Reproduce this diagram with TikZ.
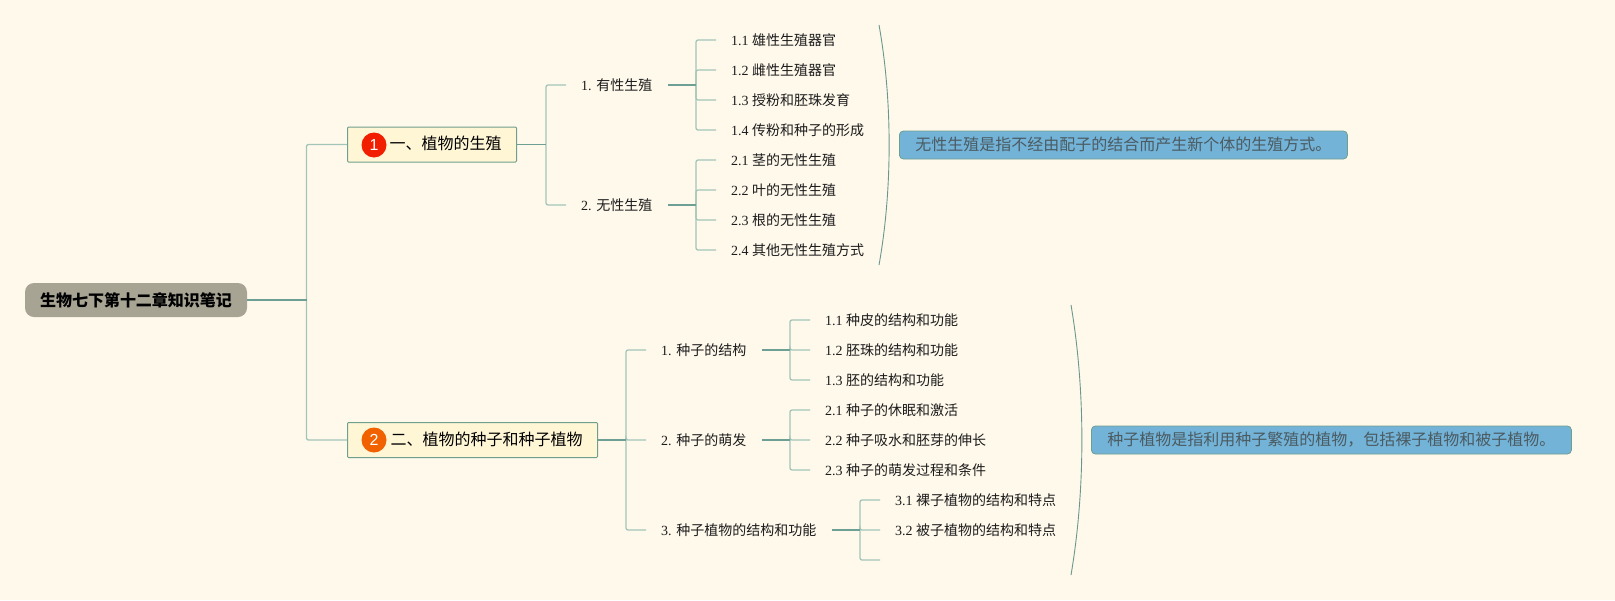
\documentclass[tikz,border=0pt]{standalone}
\usepackage{fontspec}
\setmainfont{Liberation Serif}
\newfontfamily\cjk{Noto Sans CJK SC}
\newfontfamily\iconfont{Liberation Sans}
\definecolor{bgc}{HTML}{FFF9EC}
\definecolor{boxc}{HTML}{FFF6D6}
\definecolor{rootc}{HTML}{A8A493}
\definecolor{notec}{HTML}{73B3D7}
\definecolor{notetxt}{HTML}{4B5B62}
\definecolor{thinc}{HTML}{A3C4B8}
\definecolor{thickc}{HTML}{6E9F94}
\definecolor{edgec}{HTML}{6F9F8E}
\definecolor{bracec}{HTML}{6A978C}
\definecolor{txt}{HTML}{1C1C1C}
\tikzset{
  rootbox/.style={draw=none,fill=rootc,rounded corners=9pt,minimum width=222pt,minimum height=34pt,inner sep=0pt,
    font=\cjk\bfseries\fontsize{16}{18}\selectfont,text=black},
  mainbox/.style={draw=edgec,line width=1pt,fill=boxc,rounded corners=1pt,minimum height=35pt,inner xsep=15pt,inner ysep=0pt,
    font=\fontsize{16}{18}\selectfont\cjk,text=black,anchor=west,text height=11pt,text depth=1pt},
  icon/.style={circle,minimum size=25pt,inner sep=0pt,text=white,font=\iconfont\fontsize{16}{18}\selectfont},
  topic/.style={anchor=west,inner xsep=15pt,inner ysep=2pt,text=txt,font=\fontsize{14}{16}\selectfont,text height=10pt,text depth=0pt},
  notebox/.style={draw=edgec,line width=0.8pt,fill=notec,rounded corners=4pt,anchor=west,minimum height=28pt,inner xsep=16pt,inner ysep=0pt,
    font=\fontsize{16}{18}\selectfont\cjk,text=notetxt,text height=11pt,text depth=1pt},
  thinline/.style={draw=thinc,line width=1.3pt,rounded corners=2pt},
  thickline/.style={draw=thickc,line width=1.6pt},
  braceline/.style={draw=bracec,line width=0.9pt},
}
\begin{document}
\begin{tikzpicture}[x=1pt,y=-1pt]
\useasboundingbox[fill=bgc] (0,0) rectangle (1615,600);
% junctions
\coordinate (j0) at (306.5,300);
\coordinate (j1) at (546,144.5);
\coordinate (j2) at (626,440);
\coordinate (j11) at (696,85);
\coordinate (j12) at (696,205);
\coordinate (j21) at (790,350);
\coordinate (j22) at (790,440);
\coordinate (j23) at (860,530);
\coordinate (empty) at (880,560);
\coordinate (b1a) at (879,25);
\coordinate (b1b) at (879,265);
\coordinate (b2a) at (1071,305);
\coordinate (b2b) at (1071,575);
% nodes
\node[rootbox] (root) at (136,300) {生物七下第十二章知识笔记};
\node[mainbox] (m1) at (347,144.5) {\hspace*{27pt}一、植物的生殖};
\node[mainbox] (m2) at (347,440) {\hspace*{28pt}二、植物的种子和种子植物};
\node[icon,fill=red!75!orange!95!black] (i1) at (374,145) {1};
\node[icon,fill=orange!80!red!95!black] (i2) at (374,440) {2};
\node[topic] (s1) at (566,85) {1. {\cjk 有性生殖}};
\node[topic] (s2) at (566,205) {2. {\cjk 无性生殖}};
\node[topic] (l11) at (716,40) {1.1 {\cjk 雄性生殖器官}};
\node[topic] (l12) at (716,70) {1.2 {\cjk 雌性生殖器官}};
\node[topic] (l13) at (716,100) {1.3 {\cjk 授粉和胚珠发育}};
\node[topic] (l14) at (716,130) {1.4 {\cjk 传粉和种子的形成}};
\node[topic] (l21) at (716,160) {2.1 {\cjk 茎的无性生殖}};
\node[topic] (l22) at (716,190) {2.2 {\cjk 叶的无性生殖}};
\node[topic] (l23) at (716,220) {2.3 {\cjk 根的无性生殖}};
\node[topic] (l24) at (716,250) {2.4 {\cjk 其他无性生殖方式}};
\node[topic] (t1) at (646,350) {1. {\cjk 种子的结构}};
\node[topic] (t2) at (646,440) {2. {\cjk 种子的萌发}};
\node[topic] (t3) at (646,530) {3. {\cjk 种子植物的结构和功能}};
\node[topic] (k11) at (810,320) {1.1 {\cjk 种皮的结构和功能}};
\node[topic] (k12) at (810,350) {1.2 {\cjk 胚珠的结构和功能}};
\node[topic] (k13) at (810,380) {1.3 {\cjk 胚的结构和功能}};
\node[topic] (k21) at (810,410) {2.1 {\cjk 种子的休眠和激活}};
\node[topic] (k22) at (810,440) {2.2 {\cjk 种子吸水和胚芽的伸长}};
\node[topic] (k23) at (810,470) {2.3 {\cjk 种子的萌发过程和条件}};
\node[topic] (k31) at (880,500) {3.1 {\cjk 裸子植物的结构和特点}};
\node[topic] (k32) at (880,530) {3.2 {\cjk 被子植物的结构和特点}};
\node[notebox] (n1) at (899,145) {无性生殖是指不经由配子的结合而产生新个体的生殖方式。};
\node[notebox] (n2) at (1091,440) {种子植物是指利用种子繁殖的植物，包括裸子植物和被子植物。};
% connectors
\draw[thinline] (j0) |- (m1.west);
\draw[thinline] (j0) |- (m2.west);
\draw[thickline] (root.east) -- (j0);
\draw[thinline] (j1) |- (s1.west);
\draw[thinline] (j1) |- (s2.west);
\draw[thickline] (m1.east) -- (j1);
\foreach \n in {l11,l12,l13,l14} \draw[thinline] (j11) |- (\n.west);
\draw[thickline] (s1.east) -- (j11);
\foreach \n in {l21,l22,l23,l24} \draw[thinline] (j12) |- (\n.west);
\draw[thickline] (s2.east) -- (j12);
\foreach \n in {t1,t2,t3} \draw[thinline] (j2) |- (\n.west);
\draw[thickline] (m2.east) -- (j2);
\foreach \n in {k11,k12,k13} \draw[thinline] (j21) |- (\n.west);
\draw[thickline] (t1.east) -- (j21);
\foreach \n in {k21,k22,k23} \draw[thinline] (j22) |- (\n.west);
\draw[thickline] (t2.east) -- (j22);
\foreach \n in {k31,k32} \draw[thinline] (j23) |- (\n.west);
\draw[thinline] (j23) |- (empty);
\draw[thickline] (t3.east) -- (j23);
% brackets
\draw[braceline] (b1a) .. controls (892.5,100) and (892.5,190) .. (b1b);
\draw[braceline] (b2a) .. controls (1085.5,390) and (1085.5,490) .. (b2b);
\end{tikzpicture}
\end{document}
